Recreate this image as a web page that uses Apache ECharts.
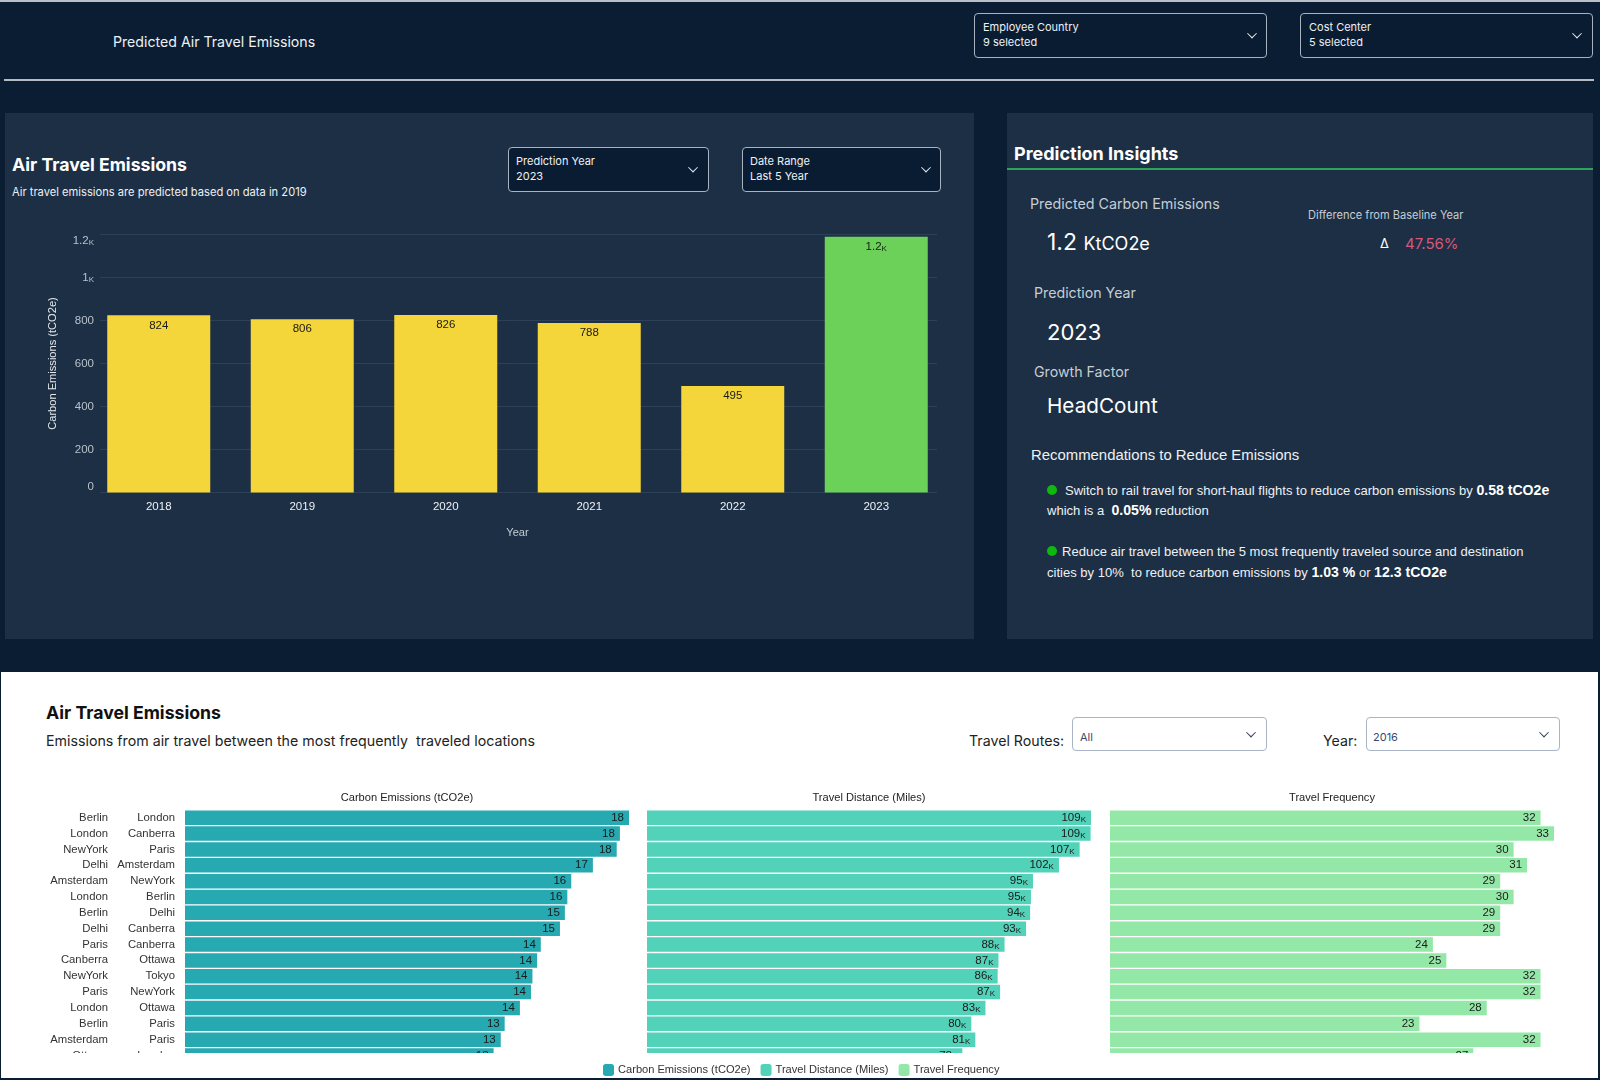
<!DOCTYPE html>
<html>
<head>
<meta charset="utf-8">
<title>Predicted Air Travel Emissions</title>
<script src="https://cdn.jsdelivr.net/npm/echarts@6/dist/echarts.min.js"></script>
<style>
html, body { margin: 0; padding: 0; background: #0a1d33; }
#page { position: relative; width: 1600px; height: 1080px; overflow: hidden; background: #0a1d33; font-family: Inter, sans-serif; }
#page div { position: absolute; white-space: pre; }
#chart { left: 0; top: 0; width: 1600px; height: 1080px; }
.panel { background: #1c2f45; }
.t { transform: translateY(-50%); color: #eef1f4; }
.select { box-sizing: border-box; background: #0a1c32; border: 1.5px solid #a7b3c1; border-radius: 4px; }
.select.light { background: #fff; border-color: #a9b5c4; }
.chev { width: 6px; height: 6px; border-right: 1.8px solid #eef1f4; border-bottom: 1.8px solid #eef1f4; transform: translate(-50%, -70%) rotate(45deg); }
.chev.dark { border-color: #2a3a55; }
.helv { font-family: "Liberation Sans", sans-serif; }
.dot { width: 10px; height: 10px; border-radius: 50%; background: #0fb80f; transform: translate(-50%, -50%); }
b { color: #fff; font-size: 14.1px; }
</style>
</head>
<body>
<div id="page">
  <div style="left:0;top:0;width:1600px;height:2px;background:#b9c0c8"></div>
  <div style="left:4px;top:79px;width:1590px;height:2px;background:#b4bbc3"></div>
  <div class="t" style="left:113px;top:41px;font-size:14.15px">Predicted Air Travel Emissions</div>

  <div class="select" style="left:974px;top:13px;width:293px;height:45px"></div>
  <div class="t" style="left:983px;top:27px;font-size:11px">Employee Country</div>
  <div class="t" style="left:983px;top:42px;font-size:11px">9 selected</div>
  <div class="chev" style="left:1252px;top:35px"></div>
  <div class="select" style="left:1300px;top:13px;width:293px;height:45px"></div>
  <div class="t" style="left:1309px;top:27px;font-size:11px">Cost Center</div>
  <div class="t" style="left:1309px;top:42px;font-size:11px">5 selected</div>
  <div class="chev" style="left:1577px;top:35px"></div>

  <div class="panel" style="left:5px;top:113px;width:969px;height:526px"></div>
  <div class="panel" style="left:1007px;top:113px;width:586px;height:526px"></div>

  <div class="t" style="left:12px;top:164px;font-size:17.7px;font-weight:700;color:#fff">Air Travel Emissions</div>
  <div class="t" style="left:12px;top:192px;font-size:11.15px">Air travel emissions are predicted based on data in 2019</div>
  <div class="select" style="left:508px;top:147px;width:201px;height:45px"></div>
  <div class="t" style="left:516px;top:161px;font-size:11px">Prediction Year</div>
  <div class="t" style="left:516px;top:176px;font-size:11px">2023</div>
  <div class="chev" style="left:693px;top:169px"></div>
  <div class="select" style="left:742px;top:147px;width:199px;height:45px"></div>
  <div class="t" style="left:750px;top:161px;font-size:11px">Date Range</div>
  <div class="t" style="left:750px;top:176px;font-size:11px">Last 5 Year</div>
  <div class="chev" style="left:926px;top:169px"></div>

  <div class="t" style="left:1014px;top:153px;font-size:18px;font-weight:700;color:#fff">Prediction Insights</div>
  <div style="left:1007px;top:168px;width:586px;height:2px;background:#2fa35a"></div>
  <div class="t" style="left:1030px;top:203px;font-size:14.27px;color:#c6cdd4">Predicted Carbon Emissions</div>
  <div class="t" style="left:1308px;top:215px;font-size:11.06px;color:#c6cdd4">Difference from Baseline Year</div>
  <div class="t" style="left:1047px;top:242px;font-size:23px;color:#fff">1.2 <span style="font-size:18px">KtCO2e</span></div>
  <div class="t" style="left:1380px;top:243px;font-size:13px;color:#fff">Δ</div>
  <div class="t" style="left:1405px;top:243px;font-size:15px;color:#d6587a">47.56%</div>
  <div class="t" style="left:1034px;top:292px;font-size:14.2px;color:#c6cdd4">Prediction Year</div>
  <div class="t" style="left:1047px;top:332px;font-size:22px;color:#fff">2023</div>
  <div class="t" style="left:1034px;top:371px;font-size:14.2px;color:#c6cdd4">Growth Factor</div>
  <div class="t" style="left:1047px;top:405px;font-size:20.7px;color:#fff">HeadCount</div>

  <div class="t helv" style="left:1031px;top:455px;font-size:14.9px">Recommendations to Reduce Emissions</div>
  <div class="dot" style="left:1052px;top:490px"></div>
  <div class="t helv" style="left:1065px;top:490px;font-size:13.04px">Switch to rail travel for short-haul flights to reduce carbon emissions by <b>0.58 tCO2e</b></div>
  <div class="t helv" style="left:1047px;top:510px;font-size:13.04px">which is a  <b>0.05%</b> reduction</div>
  <div class="dot" style="left:1052px;top:551px"></div>
  <div class="t helv" style="left:1062px;top:551px;font-size:13.04px">Reduce air travel between the 5 most frequently traveled source and destination</div>
  <div class="t helv" style="left:1047px;top:572px;font-size:13.04px">cities by 10%  to reduce carbon emissions by <b>1.03 %</b> or <b>12.3 tCO2e</b></div>

  <div style="left:1px;top:672px;width:1597px;height:406px;background:#fff"></div>
  <div class="t" style="left:46px;top:712px;font-size:17.7px;font-weight:700;color:#111">Air Travel Emissions</div>
  <div class="t" style="left:46px;top:740px;font-size:14.23px;color:#222">Emissions from air travel between the most frequently  traveled locations</div>
  <div class="t" style="left:969px;top:740px;font-size:14.2px;color:#222">Travel Routes:</div>
  <div class="select light" style="left:1072px;top:717px;width:195px;height:34px"></div>
  <div class="t" style="left:1080px;top:737px;font-size:11px;color:#3b4a6b">All</div>
  <div class="chev dark" style="left:1251px;top:734px"></div>
  <div class="t" style="left:1323px;top:740px;font-size:14.2px;color:#222">Year:</div>
  <div class="select light" style="left:1366px;top:717px;width:194px;height:34px"></div>
  <div class="t" style="left:1373px;top:737px;font-size:11px;color:#3b4a6b">2016</div>
  <div class="chev dark" style="left:1544px;top:734px"></div>

  <div id="chart"></div>
</div>
<script>
// top chart
const years = ['2018', '2019', '2020', '2021', '2022', '2023'];
const emissions = [824, 806, 826, 788, 495, 1189];
const yearColors = ['#f4d63a', '#f4d63a', '#f4d63a', '#f4d63a', '#f4d63a', '#6bd159'];

// route tables, first 16 rows are the ones visible
const sources = ['Berlin', 'London', 'NewYork', 'Delhi', 'Amsterdam', 'London', 'Berlin', 'Delhi', 'Paris', 'Canberra', 'NewYork', 'Paris', 'London', 'Berlin', 'Amsterdam', 'Ottawa'];
const destinations = ['London', 'Canberra', 'Paris', 'Amsterdam', 'NewYork', 'Berlin', 'Delhi', 'Canberra', 'Canberra', 'Ottawa', 'Tokyo', 'NewYork', 'Ottawa', 'Paris', 'Paris', 'London'];
const carbon = [18.07, 17.7, 17.57, 16.6, 15.72, 15.56, 15.46, 15.26, 14.48, 14.33, 14.14, 14.08, 13.63, 13.01, 12.85, 12.56];
const distance = [109400, 109300, 106600, 101500, 95100, 94600, 94400, 93400, 88100, 86600, 86400, 87000, 83400, 79900, 80900, 77700];
const frequency = [32, 33, 30, 31, 29, 30, 29, 29, 24, 25, 32, 32, 28, 23, 32, 27];

const FONT = '"Liberation Sans", sans-serif';
const smallK = { k: { fontSize: 8, fontFamily: FONT, verticalAlign: 'bottom' } };

function fmtK(v, digits) {
    if (v < 1000) return String(v);
    const n = +(v / 1000).toFixed(digits);
    return n + '{k|K}';
}

const blankAxis = { axisLine: { show: false }, axisTick: { show: false }, splitLine: { show: false }, axisLabel: { show: false } };

const panels = [
    { name: 'Carbon Emissions (tCO2e)', color: '#26a9b0', left: 185, values: carbon, max: 18.07, label: v => String(Math.round(v)) },
    { name: 'Travel Distance (Miles)', color: '#52d2b9', left: 647, values: distance, max: 109400, label: v => fmtK(v, 0) },
    { name: 'Travel Frequency', color: '#94e8a7', left: 1110, values: frequency, max: 33, label: v => String(v) },
];

const grids = [
    { left: 100, top: 234.5, width: 837, height: 258, outerBoundsMode: 'none' },
    { left: 87, top: 234.5, width: 861, height: 258, outerBoundsMode: 'none' },
];
const xAxes = [
    Object.assign({ gridIndex: 0, type: 'category', data: years }, blankAxis),
    {
        gridIndex: 1, type: 'category', data: years,
        name: 'Year', nameLocation: 'middle', nameGap: 35,
        nameTextStyle: { color: '#c6cdd4', fontSize: 11.1, fontFamily: FONT },
        axisLine: { show: false }, axisTick: { show: false },
        axisLabel: { color: '#eef1f4', fontSize: 11.5, fontFamily: FONT, margin: 8 },
    },
];
const yAxes = [
    {
        gridIndex: 0, type: 'value', min: 0, max: 1200, interval: 200,
        name: 'Carbon Emissions (tCO2e)', nameLocation: 'middle', nameGap: 42,
        nameTextStyle: { color: '#e4e8ec', fontSize: 11.1, fontFamily: FONT },
        axisLine: { show: false }, axisTick: { show: false },
        splitLine: { lineStyle: { color: '#2c4057', width: 1 } },
        axisLabel: {
            color: '#b9c1ca', fontSize: 11.5, fontFamily: FONT, margin: 6,
            verticalAlignMinLabel: 'bottom', verticalAlignMaxLabel: 'top',
            formatter: v => fmtK(v, 1), rich: smallK,
        },
    },
    Object.assign({ gridIndex: 1, type: 'value', min: 0, max: 1200 }, blankAxis),
];
const series = [
    {
        type: 'bar', xAxisIndex: 1, yAxisIndex: 1, barWidth: 103,
        data: emissions.map((v, i) => ({ value: v, itemStyle: { color: yearColors[i] } })),
        label: {
            show: true, position: 'insideTop', distance: 4, color: '#1a1a1a', fontSize: 11.5, fontFamily: FONT,
            formatter: p => fmtK(p.value, 1), rich: smallK,
        },
    },
];

// three bar panels share the row labels of the first one
panels.forEach((p, i) => {
    const g = grids.length;
    grids.push({ left: p.left, top: 809.8, width: 444, height: 253.6, outerBoundsMode: 'none' });
    xAxes.push(Object.assign({
        gridIndex: g, type: 'value', min: 0, max: p.max, position: 'top',
        name: p.name, nameLocation: 'middle', nameGap: 6,
        nameTextStyle: { color: '#222', fontSize: 11.1, fontFamily: FONT },
    }, blankAxis));
    yAxes.push({
        gridIndex: g, type: 'category', inverse: true, data: destinations,
        axisLine: { show: false }, axisTick: { show: false },
        axisLabel: { show: i === 0, color: '#333', fontSize: 11.3, fontFamily: FONT, margin: 10, interval: 0 },
    });
    series.push({
        name: p.name, type: 'bar', xAxisIndex: xAxes.length - 1, yAxisIndex: yAxes.length - 1,
        barWidth: 14.5, data: p.values, itemStyle: { color: p.color },
        label: {
            show: true, position: 'insideRight', distance: 5, color: '#1a1a1a', fontSize: 11.5, fontFamily: FONT,
            formatter: o => p.label(o.value), rich: smallK,
        },
    });
});
// source city column, sits left of the destination column
yAxes.push({
    gridIndex: 2, type: 'category', inverse: true, data: sources, position: 'left', offset: 67,
    axisLine: { show: false }, axisTick: { show: false },
    axisLabel: { color: '#333', fontSize: 11.3, fontFamily: FONT, margin: 10, interval: 0 },
});

const chart = echarts.init(document.getElementById('chart'), null, { renderer: 'canvas' });
chart.setOption({
    animation: false,
    backgroundColor: 'transparent',
    grid: grids, xAxis: xAxes, yAxis: yAxes, series: series,
    legend: {
        left: 598, top: 1059, z: 20, icon: 'roundRect', itemWidth: 11, itemHeight: 12, itemGap: 10,
        textStyle: { color: '#333', fontSize: 11.1, fontFamily: FONT, padding: [0, 0, 0, -1] },
        data: panels.map(p => p.name),
    },
    // rows past the fold are cut off, the real widget scrolls
    graphic: [{ type: 'rect', z: 10, shape: { x: 1, y: 1053, width: 1597, height: 12 }, style: { fill: '#fff' } }],
});
</script>
</body>
</html>
